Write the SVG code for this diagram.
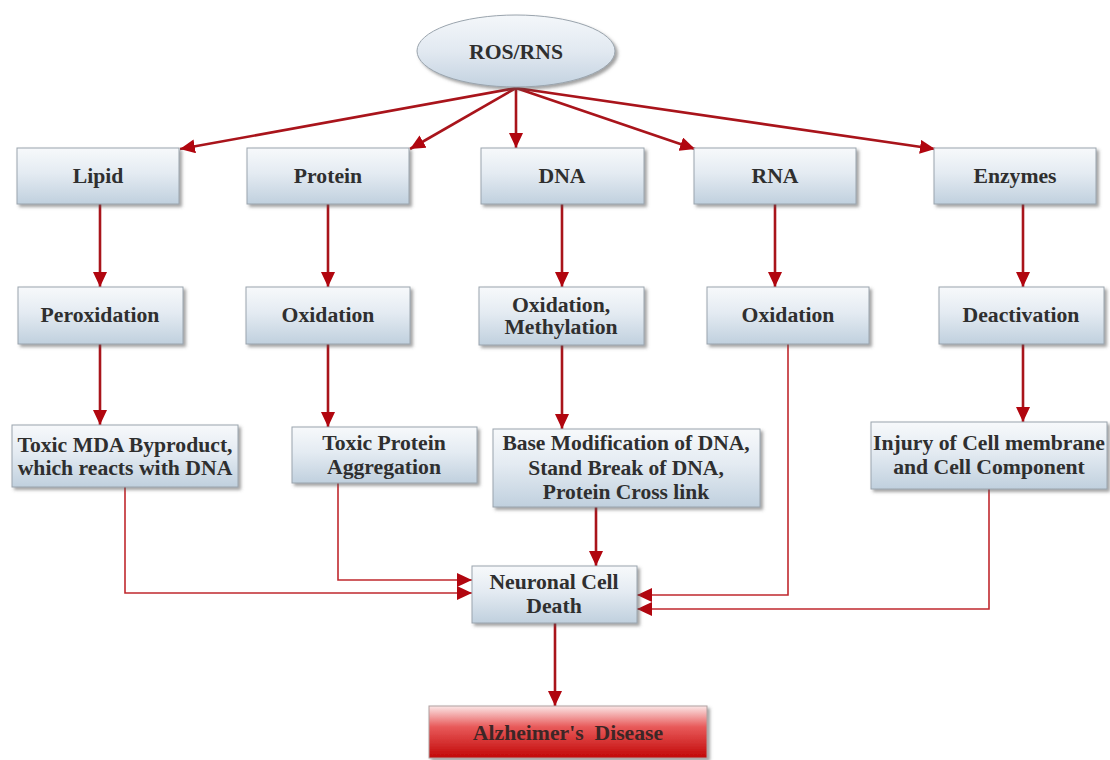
<svg xmlns="http://www.w3.org/2000/svg" width="1110" height="760" viewBox="0 0 1110 760">
<defs>
<linearGradient id="boxg" x1="0" y1="0" x2="0" y2="1">
<stop offset="0" stop-color="#f7f9fb"/>
<stop offset="0.45" stop-color="#e4ebf2"/>
<stop offset="1" stop-color="#c0d0de"/>
</linearGradient>
<linearGradient id="ellg" x1="0" y1="0" x2="0" y2="1">
<stop offset="0" stop-color="#f4f7fa"/>
<stop offset="0.5" stop-color="#e2e9f1"/>
<stop offset="1" stop-color="#c3d2e0"/>
</linearGradient>
<linearGradient id="redg" x1="0" y1="0" x2="0" y2="1">
<stop offset="0" stop-color="#fbe6e6"/>
<stop offset="0.4" stop-color="#e85a5a"/>
<stop offset="1" stop-color="#c20808"/>
</linearGradient>
<filter id="sh" x="-10%" y="-10%" width="130%" height="140%">
<feDropShadow dx="2.5" dy="2.5" stdDeviation="1.5" flood-color="#555" flood-opacity="0.55"/>
</filter>
<marker id="ah" markerUnits="userSpaceOnUse" markerWidth="16" markerHeight="14" refX="15" refY="7" orient="auto">
<path d="M0,0 L15,7 L0,14 z" fill="#b1060f"/>
</marker>
</defs>
<style>
.box{fill:url(#boxg);stroke:#9aa4ad;stroke-width:1;filter:url(#sh)}
.t{font-family:"Liberation Serif","Times New Roman",serif;font-weight:bold;font-size:21.7px;fill:#2f2f2f;text-anchor:middle}
.c{fill:none;stroke:#a9141b;stroke-width:2.6}
.c2{fill:none;stroke:#c0282e;stroke-width:1.6}
</style>
<g id="connectors">
<path class="c" d="M516,88 L180,149" marker-end="url(#ah)"/>
<path class="c" d="M516,88 L410,149" marker-end="url(#ah)"/>
<path class="c" d="M516,88 L516,148" marker-end="url(#ah)"/>
<path class="c" d="M516,88 L695,149" marker-end="url(#ah)"/>
<path class="c" d="M516,88 L935,149" marker-end="url(#ah)"/>
<path class="c" d="M100,204 L100,287" marker-end="url(#ah)"/>
<path class="c" d="M328,204 L328,287" marker-end="url(#ah)"/>
<path class="c" d="M562,204 L562,287" marker-end="url(#ah)"/>
<path class="c" d="M775,204 L775,287" marker-end="url(#ah)"/>
<path class="c" d="M1023,204 L1023,287" marker-end="url(#ah)"/>
<path class="c" d="M100,344 L100,425" marker-end="url(#ah)"/>
<path class="c" d="M328,344 L328,427" marker-end="url(#ah)"/>
<path class="c" d="M562,345 L562,429" marker-end="url(#ah)"/>
<path class="c" d="M1023,344 L1023,422" marker-end="url(#ah)"/>
<path class="c2" d="M125,487 V593 H472" marker-end="url(#ah)"/>
<path class="c2" d="M338,483 V580 H472" marker-end="url(#ah)"/>
<path class="c" d="M596,507 V566" marker-end="url(#ah)"/>
<path class="c2" d="M788,344 V595 H637" marker-end="url(#ah)"/>
<path class="c2" d="M989,489 V609 H637" marker-end="url(#ah)"/>
<path class="c" d="M555,623 V706" marker-end="url(#ah)"/>
</g>
<g id="ros">
<ellipse cx="516" cy="51" rx="99" ry="36" fill="url(#ellg)" stroke="#9aa4ad" stroke-width="1" filter="url(#sh)"/>
<text class="t" x="516" y="59">ROS/RNS</text>
</g>
<g id="lipid"><rect class="box" x="17" y="148" width="162" height="56"/><text class="t" x="98" y="183">Lipid</text></g>
<g id="protein"><rect class="box" x="247" y="148" width="162" height="56"/><text class="t" x="328" y="183">Protein</text></g>
<g id="dna"><rect class="box" x="481" y="148" width="163" height="56"/><text class="t" x="562" y="183">DNA</text></g>
<g id="rna"><rect class="box" x="694" y="148" width="162" height="56"/><text class="t" x="775" y="183">RNA</text></g>
<g id="enzymes"><rect class="box" x="934" y="148" width="162" height="56"/><text class="t" x="1015" y="183">Enzymes</text></g>
<g id="peroxidation"><rect class="box" x="18" y="287" width="165" height="57"/><text class="t" x="100" y="322">Peroxidation</text></g>
<g id="protein-oxidation"><rect class="box" x="246" y="287" width="164" height="57"/><text class="t" x="328" y="322">Oxidation</text></g>
<g id="dna-oxidation"><rect class="box" x="479" y="287" width="165" height="58"/><text class="t" x="561" y="312">Oxidation,</text><text class="t" x="561" y="334">Methylation</text></g>
<g id="rna-oxidation"><rect class="box" x="707" y="287" width="162" height="57"/><text class="t" x="788" y="322">Oxidation</text></g>
<g id="deactivation"><rect class="box" x="939" y="287" width="165" height="57"/><text class="t" x="1021" y="322">Deactivation</text></g>
<g id="mda"><rect class="box" x="12" y="425" width="226" height="62"/><text class="t" x="125" y="452">Toxic MDA Byproduct,</text><text class="t" x="125" y="475">which reacts with DNA</text></g>
<g id="aggregation"><rect class="box" x="292" y="427" width="185" height="56"/><text class="t" x="384" y="450">Toxic Protein</text><text class="t" x="384" y="474">Aggregation</text></g>
<g id="base-mod"><rect class="box" x="493" y="429" width="267" height="78"/><text class="t" x="626" y="450" style="font-size:21.5px">Base Modification of DNA,</text><text class="t" x="626" y="475" style="font-size:21.5px">Stand Break of DNA,</text><text class="t" x="626" y="499" style="font-size:21.5px">Protein Cross link</text></g>
<g id="injury"><rect class="box" x="871" y="422" width="236" height="67"/><text class="t" x="989" y="450">Injury of Cell membrane</text><text class="t" x="989" y="474">and Cell Component</text></g>
<g id="neuronal"><rect class="box" x="472" y="566" width="165" height="57"/><text class="t" x="554" y="589">Neuronal Cell</text><text class="t" x="554" y="613">Death</text></g>
<g id="alzheimers"><rect x="429" y="706" width="278" height="52" fill="url(#redg)" stroke="#b0a0a0" stroke-width="1" filter="url(#sh)"/><text class="t" x="568" y="740" style="fill:#3d2626" xml:space="preserve">Alzheimer's  Disease</text></g>
</svg>
